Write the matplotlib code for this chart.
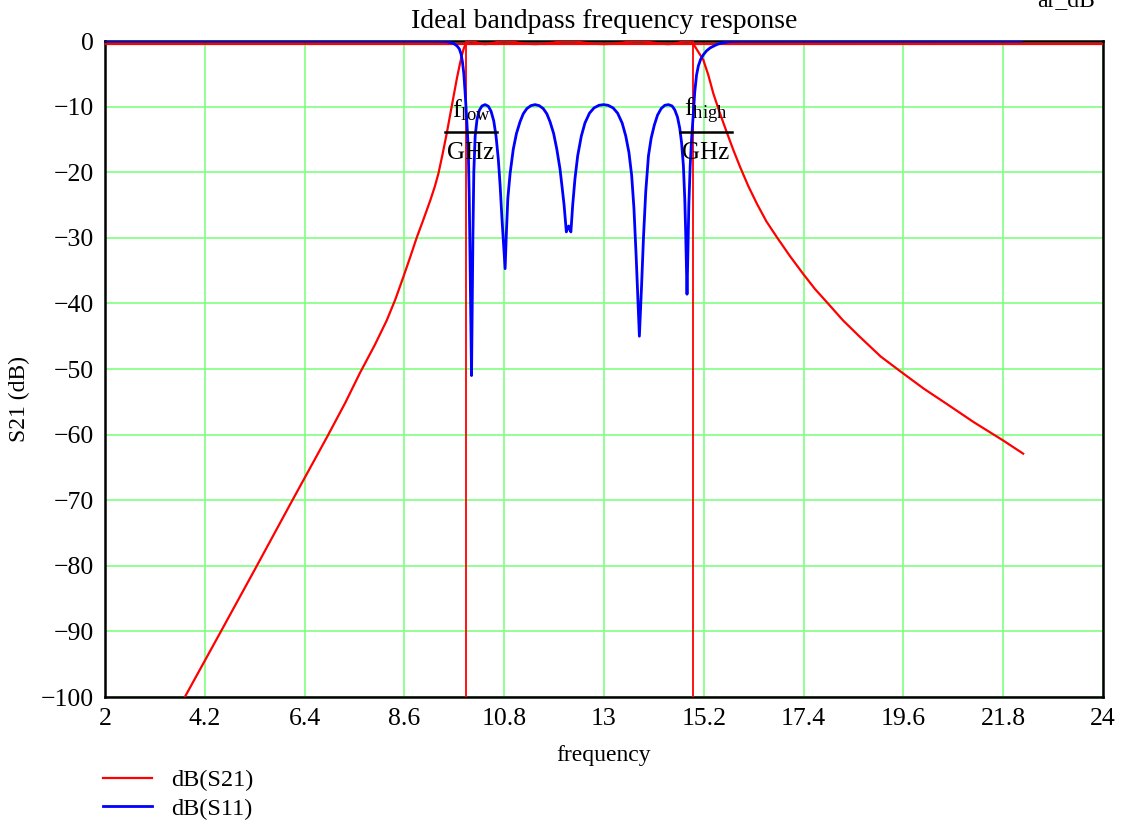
import numpy as np
import matplotlib
matplotlib.use('Agg')
import matplotlib.pyplot as plt

plt.rcParams['font.family'] = ['Liberation Serif', 'DejaVu Serif']
plt.rcParams['mathtext.fontset'] = 'custom'
plt.rcParams['mathtext.rm'] = 'Liberation Serif'
plt.rcParams['mathtext.it'] = 'Liberation Serif'

# band edges [GHz] and passband reference level [dB]
f_low = 9.95
f_high = 14.97
ref_level = -0.5

# dB(S21)
s21_freq = [3.76, 4.5, 5.3, 6.1, 6.9, 7.3, 7.62, 7.95, 8.21, 8.4, 8.58, 8.73,
            8.87, 9.02, 9.17, 9.27, 9.35, 9.44, 9.53, 9.61, 9.69, 9.76, 9.82,
            9.87, 9.91, 9.95, 9.99, 10.04, 10.08, 10.15, 10.23, 10.3, 10.38,
            10.47, 10.56, 10.68, 10.82, 10.97, 11.1, 11.25, 11.48, 11.7, 11.88,
            12.05, 12.2, 12.37, 12.55, 12.75, 12.99, 13.22, 13.42, 13.6, 13.78,
            13.93, 14.08, 14.25, 14.42, 14.55, 14.67, 14.77, 14.85, 14.9, 14.96,
            15.02, 15.1, 15.19, 15.3, 15.41, 15.55, 15.7, 15.85, 16.0, 16.18,
            16.37, 16.58, 16.81, 17.1, 17.39, 17.65, 17.91, 18.27, 18.64, 19.1,
            19.6, 20.05, 20.55, 21.15, 21.8, 22.24]
s21_db = [-100, -90.7, -80.6, -70.4, -60.3, -55.1, -50.6, -46.3, -42.6, -39.4, -35.9, -32.9,
          -30, -27.2, -24.3, -22.2, -20.2, -17.3, -14.2, -11.2, -8.2, -5.6, -3.6,
          -2.1, -1.1, -0.45, -0.12, -0.02, 0, -0.1, -0.3, -0.43, -0.48,
          -0.42, -0.3, -0.08, 0, -0.08, -0.25, -0.4, -0.48, -0.4, -0.25,
          -0.06, -0.01, -0.06, -0.24, -0.41, -0.48, -0.41, -0.24, -0.06, 0,
          -0.08, -0.25, -0.42, -0.48, -0.4, -0.2, -0.04, 0, -0.1, -0.4,
          -1.0, -1.9, -2.9, -5.2, -8, -10.9, -13.8, -16.6, -19.2, -22.1,
          -24.8, -27.5, -29.9, -32.8, -35.5, -37.8, -39.8, -42.6, -45.1, -48.1,
          -50.7, -53, -55.3, -58.1, -60.9, -62.9]

# dB(S11)
s11_freq = [2.0, 9.3, 9.45, 9.55, 9.63, 9.7, 9.76, 9.81, 9.85, 9.88, 9.91, 9.94,
            9.97, 9.99, 10.01, 10.03, 10.05, 10.08,
            10.11, 10.13, 10.16, 10.2, 10.25, 10.31, 10.38, 10.45, 10.51, 10.57,
            10.62, 10.67, 10.71, 10.75, 10.82,
            10.85, 10.88, 10.93, 11.0, 11.07, 11.15, 11.22, 11.3, 11.39, 11.48,
            11.57, 11.66, 11.74, 11.81, 11.89, 11.96, 12.03, 12.08, 12.12, 12.17,
            12.22,
            12.27, 12.31, 12.36, 12.42, 12.5, 12.58, 12.68, 12.78, 12.89, 12.99,
            13.09, 13.2, 13.3, 13.4, 13.48, 13.55, 13.61, 13.66, 13.71, 13.78,
            13.83, 13.87, 13.92, 13.98, 14.04, 14.11, 14.18, 14.26, 14.34, 14.42,
            14.5, 14.56, 14.62, 14.67, 14.71, 14.75, 14.78, 14.8, 14.83,
            14.85, 14.87, 14.9, 14.93, 14.97, 15.0, 15.04, 15.08, 15.13, 15.19,
            15.26, 15.34, 15.41, 15.5, 15.6, 15.7, 15.8, 16.0, 22.2]
s11_db = [0, 0, -0.05, -0.12, -0.25, -0.45, -0.75, -1.2, -2.0, -3.2, -5.0, -8.0,
          -11.5, -14, -17, -24, -35, -51,
          -30, -20, -14.5, -12, -10.6, -9.9, -9.7, -9.95, -10.7, -12.2,
          -14.5, -18, -22, -27, -34.7,
          -28.9, -24, -20.2, -16.5, -14.1, -12.3, -11.1, -10.3, -9.85, -9.7,
          -9.85, -10.3, -11.1, -12.3, -14.1, -16.5, -19.5, -22.5, -25, -29.1,
          -28.2,
          -29.1, -25, -21, -17.5, -14.5, -12.5, -11, -10.2, -9.8, -9.7,
          -9.8, -10.2, -11, -12.5, -14.5, -17, -20.5, -25.5, -33, -45,
          -37, -30, -23, -17.5, -14.8, -12.8, -11.3, -10.3, -9.8, -9.7,
          -9.9, -10.5, -11.6, -13.3, -15.5, -19, -24, -29, -38.6,
          -32, -25, -19, -15, -11, -7.8, -5.2, -3.8, -2.8, -2.1,
          -1.5, -1.05, -0.8, -0.5, -0.3, -0.17, -0.08, -0.02, 0]

x_ticks = [2, 4.2, 6.4, 8.6, 10.8, 13, 15.2, 17.4, 19.6, 21.8, 24]
x_tick_labels = ['2', '4.2', '6.4', '8.6', '10.8', '13', '15.2', '17.4', '19.6', '21.8', '24']
y_ticks = list(range(-100, 1, 10))

fig = plt.figure(figsize=(11.22, 8.24), dpi=100)
ax = fig.add_axes([105/1122, 1 - 697/824, 998/1122, 656/824])

ax.plot(s21_freq, s21_db, color='#ff0000', lw=1.6, zorder=3, label='dB(S21)')
ax.plot(s11_freq, s11_db, color='#0000ff', lw=2.0, zorder=3, label='dB(S11)')

# markers
ax.axvline(f_low, color='#ff0000', lw=1.3, zorder=2.6)
ax.axvline(f_high, color='#ff0000', lw=1.3, zorder=2.6)
ax.axhline(ref_level, color='#ff0000', lw=1.6, zorder=2.6)

ax.set_xlim(2, 24)
ax.set_ylim(-100, 0)
ax.set_xticks(x_ticks)
ax.set_xticklabels(x_tick_labels)
ax.set_yticks(y_ticks)
ax.tick_params(length=0, labelsize=18.5, pad=8)
ax.grid(True, color='#80ff80', lw=1.2)
ax.set_axisbelow(True)
for s in ax.spines.values():
    s.set_linewidth(1.8)
    s.set_color('black')

ax.set_title('Ideal bandpass frequency response', fontsize=20, pad=9)
ax.set_xlabel('frequency', fontsize=17, labelpad=11)
ax.set_ylabel('S21 (dB)', fontsize=17)
ax.yaxis.set_label_coords(-0.075, 0.455)

# marker labels as fractions f/GHz
for f, name in [(f_low, 'low'), (f_high, 'high')]:
    xc = f + 0.12 if name == 'low' else f + 0.28
    ax.text(xc, -10.6, r'$\mathrm{f_{%s}}$' % name, fontsize=19, ha='center', va='center')
    ax.plot([xc - 0.57, xc + 0.57], [-13.9, -13.9], color='black', lw=1.8, zorder=4)
    ax.text(xc, -17.0, 'GHz', fontsize=18, ha='center', va='center')

fig.text(1066/1122, 1 - 6/824, 'ar_dB', fontsize=17, ha='center', va='baseline')

fig.legend(loc='upper left', bbox_to_anchor=(86/1122, 1 - 752/824), frameon=False,
           fontsize=17.5, handlelength=2.0, handletextpad=0.8, labelspacing=0.28,
           borderpad=0.2)

fig.savefig('out.png', dpi=100)
